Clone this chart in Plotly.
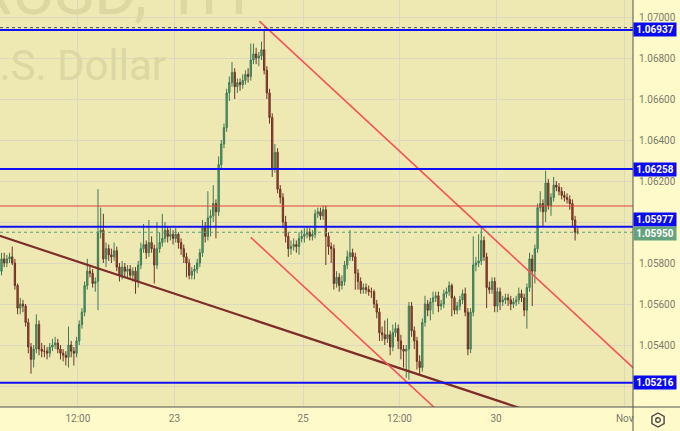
import plotly.graph_objects as go

# ---------------- data (hourly candles) ----------------
open_ = [
    1.0576, 1.0582, 1.0580, 1.0582, 1.0583, 1.0580, 1.0569, 1.0558, 1.0560, 1.0559, 1.0551, 1.0539,
    1.0533, 1.0538, 1.0550, 1.0538, 1.0537, 1.0537, 1.0536, 1.0539, 1.0540, 1.0541, 1.0538, 1.0536,
    1.0535, 1.0534, 1.0540, 1.0537, 1.0536, 1.0542, 1.0550, 1.0556, 1.0569, 1.0576, 1.0575, 1.0570,
    1.0571, 1.0595, 1.0596, 1.0582, 1.0587, 1.0584, 1.0583, 1.0586, 1.0578, 1.0574, 1.0578, 1.0576,
    1.0577, 1.0574, 1.0576, 1.0571, 1.0579, 1.0587, 1.0589, 1.0585, 1.0590, 1.0587, 1.0579, 1.0587,
    1.0590, 1.0592, 1.0596, 1.0593, 1.0594, 1.0592, 1.0594, 1.0590, 1.0587, 1.0583, 1.0580, 1.0574,
    1.0576, 1.0577, 1.0580, 1.0585, 1.0597, 1.0593, 1.0602, 1.0603, 1.0609, 1.0605, 1.0628, 1.0638,
    1.0646, 1.0663, 1.0668, 1.0673, 1.0666, 1.0668, 1.0667, 1.0669, 1.0672, 1.0671, 1.0679, 1.0682,
    1.0680, 1.0681, 1.0684, 1.0674, 1.0663, 1.0651, 1.0626, 1.0634, 1.0616, 1.0612, 1.0600, 1.0593,
    1.0587, 1.0588, 1.0589, 1.0588, 1.0592, 1.0593, 1.0594, 1.0595, 1.0593, 1.0594, 1.0604, 1.0605,
    1.0603, 1.0606, 1.0593, 1.0588, 1.0587, 1.0570, 1.0573, 1.0569, 1.0571, 1.0579, 1.0583, 1.0585,
    1.0583, 1.0575, 1.0571, 1.0567, 1.0568, 1.0567, 1.0566, 1.0566, 1.0560, 1.0556, 1.0546, 1.0545,
    1.0543, 1.0545, 1.0539, 1.0546, 1.0548, 1.0542, 1.0538, 1.0537, 1.0538, 1.0559, 1.0547, 1.0542,
    1.0532, 1.0529, 1.0551, 1.0560, 1.0557, 1.0561, 1.0563, 1.0564, 1.0559, 1.0560, 1.0565, 1.0566,
    1.0569, 1.0563, 1.0557, 1.0559, 1.0562, 1.0565, 1.0556, 1.0538, 1.0556, 1.0579, 1.0580, 1.0581,
    1.0591, 1.0583, 1.0568, 1.0567, 1.0571, 1.0559, 1.0566, 1.0561, 1.0562, 1.0563, 1.0562, 1.0560,
    1.0561, 1.0562, 1.0565, 1.0563, 1.0557, 1.0568, 1.0582, 1.0576, 1.0587, 1.0607, 1.0609, 1.0605,
    1.0619, 1.0608, 1.0612, 1.0618, 1.0617, 1.0615, 1.0613, 1.0612, 1.0611, 1.0609, 1.0601, 1.0595,
]
high = [
    1.0585, 1.0585, 1.0584, 1.0585, 1.0588, 1.0582, 1.0570, 1.0563, 1.0562, 1.0560, 1.0553, 1.0541,
    1.0540, 1.0555, 1.0552, 1.0541, 1.0540, 1.0539, 1.0541, 1.0543, 1.0544, 1.0543, 1.0540, 1.0538,
    1.0537, 1.0549, 1.0542, 1.0539, 1.0544, 1.0552, 1.0558, 1.0571, 1.0582, 1.0579, 1.0577, 1.0573,
    1.0616, 1.0607, 1.0604, 1.0590, 1.0589, 1.0587, 1.0590, 1.0588, 1.0580, 1.0581, 1.0580, 1.0579,
    1.0579, 1.0578, 1.0578, 1.0581, 1.0590, 1.0599, 1.0591, 1.0601, 1.0593, 1.0589, 1.0600, 1.0595,
    1.0604, 1.0600, 1.0598, 1.0597, 1.0596, 1.0597, 1.0595, 1.0592, 1.0589, 1.0585, 1.0582, 1.0578,
    1.0579, 1.0582, 1.0587, 1.0601, 1.0600, 1.0615, 1.0606, 1.0618, 1.0611, 1.0632, 1.0640, 1.0648,
    1.0665, 1.0671, 1.0678, 1.0675, 1.0670, 1.0670, 1.0672, 1.0674, 1.0675, 1.0687, 1.0687, 1.0685,
    1.0683, 1.0688, 1.0694, 1.0676, 1.0665, 1.0653, 1.0638, 1.0636, 1.0618, 1.0614, 1.0603, 1.0595,
    1.0591, 1.0592, 1.0591, 1.0595, 1.0596, 1.0597, 1.0598, 1.0597, 1.0596, 1.0606, 1.0607, 1.0607,
    1.0608, 1.0608, 1.0595, 1.0590, 1.0589, 1.0576, 1.0575, 1.0574, 1.0581, 1.0586, 1.0596, 1.0587,
    1.0585, 1.0577, 1.0573, 1.0570, 1.0570, 1.0569, 1.0568, 1.0567, 1.0562, 1.0558, 1.0549, 1.0552,
    1.0553, 1.0547, 1.0550, 1.0551, 1.0550, 1.0545, 1.0540, 1.0540, 1.0561, 1.0561, 1.0549, 1.0544,
    1.0535, 1.0553, 1.0564, 1.0562, 1.0563, 1.0566, 1.0566, 1.0566, 1.0562, 1.0567, 1.0568, 1.0571,
    1.0570, 1.0564, 1.0561, 1.0564, 1.0567, 1.0568, 1.0558, 1.0558, 1.0593, 1.0583, 1.0594, 1.0597,
    1.0593, 1.0585, 1.0571, 1.0573, 1.0573, 1.0568, 1.0568, 1.0564, 1.0565, 1.0565, 1.0564, 1.0563,
    1.0564, 1.0568, 1.0567, 1.0565, 1.0570, 1.0585, 1.0584, 1.0589, 1.0609, 1.0615, 1.0611, 1.0625,
    1.0621, 1.0614, 1.0622, 1.0620, 1.0619, 1.0617, 1.0615, 1.0614, 1.0613, 1.0611, 1.0603, 1.0597,
]
low = [
    1.0574, 1.0578, 1.0578, 1.0580, 1.0579, 1.0567, 1.0555, 1.0555, 1.0556, 1.0549, 1.0536, 1.0526,
    1.0529, 1.0536, 1.0535, 1.0534, 1.0534, 1.0533, 1.0534, 1.0537, 1.0538, 1.0536, 1.0533, 1.0532,
    1.0530, 1.0529, 1.0534, 1.0530, 1.0534, 1.0540, 1.0548, 1.0554, 1.0567, 1.0573, 1.0568, 1.0566,
    1.0557, 1.0592, 1.0580, 1.0578, 1.0581, 1.0580, 1.0581, 1.0576, 1.0571, 1.0572, 1.0573, 1.0573,
    1.0572, 1.0571, 1.0565, 1.0568, 1.0577, 1.0585, 1.0582, 1.0583, 1.0585, 1.0570, 1.0577, 1.0585,
    1.0588, 1.0590, 1.0590, 1.0591, 1.0589, 1.0590, 1.0587, 1.0584, 1.0580, 1.0573, 1.0572, 1.0572,
    1.0572, 1.0575, 1.0578, 1.0583, 1.0590, 1.0591, 1.0593, 1.0600, 1.0592, 1.0603, 1.0626, 1.0636,
    1.0644, 1.0659, 1.0666, 1.0660, 1.0663, 1.0664, 1.0665, 1.0667, 1.0668, 1.0669, 1.0677, 1.0677,
    1.0676, 1.0679, 1.0672, 1.0660, 1.0648, 1.0622, 1.0624, 1.0614, 1.0609, 1.0597, 1.0590, 1.0583,
    1.0584, 1.0586, 1.0585, 1.0584, 1.0590, 1.0590, 1.0592, 1.0591, 1.0591, 1.0592, 1.0602, 1.0601,
    1.0601, 1.0579, 1.0584, 1.0580, 1.0567, 1.0568, 1.0566, 1.0567, 1.0569, 1.0577, 1.0581, 1.0581,
    1.0567, 1.0567, 1.0565, 1.0565, 1.0565, 1.0564, 1.0563, 1.0558, 1.0553, 1.0542, 1.0542, 1.0540,
    1.0541, 1.0535, 1.0537, 1.0544, 1.0538, 1.0533, 1.0529, 1.0524, 1.0523, 1.0544, 1.0538, 1.0528,
    1.0525, 1.0527, 1.0549, 1.0554, 1.0552, 1.0555, 1.0561, 1.0556, 1.0557, 1.0558, 1.0563, 1.0564,
    1.0554, 1.0555, 1.0555, 1.0557, 1.0560, 1.0554, 1.0535, 1.0536, 1.0554, 1.0576, 1.0578, 1.0579,
    1.0581, 1.0558, 1.0565, 1.0565, 1.0556, 1.0556, 1.0557, 1.0559, 1.0560, 1.0559, 1.0557, 1.0558,
    1.0559, 1.0560, 1.0561, 1.0554, 1.0548, 1.0566, 1.0559, 1.0570, 1.0585, 1.0605, 1.0598, 1.0600,
    1.0606, 1.0603, 1.0610, 1.0615, 1.0613, 1.0611, 1.0610, 1.0609, 1.0606, 1.0598, 1.0591, 1.0594,
]
close_ = [
    1.0582, 1.0580, 1.0582, 1.0583, 1.0580, 1.0569, 1.0558, 1.0560, 1.0559, 1.0551, 1.0539, 1.0533,
    1.0538, 1.0550, 1.0538, 1.0537, 1.0537, 1.0536, 1.0539, 1.0540, 1.0541, 1.0538, 1.0536, 1.0535,
    1.0534, 1.0540, 1.0537, 1.0536, 1.0542, 1.0550, 1.0556, 1.0569, 1.0576, 1.0575, 1.0570, 1.0571,
    1.0595, 1.0596, 1.0582, 1.0587, 1.0584, 1.0583, 1.0586, 1.0578, 1.0574, 1.0578, 1.0576, 1.0577,
    1.0574, 1.0576, 1.0571, 1.0579, 1.0587, 1.0589, 1.0585, 1.0590, 1.0587, 1.0579, 1.0587, 1.0590,
    1.0592, 1.0596, 1.0593, 1.0594, 1.0592, 1.0594, 1.0590, 1.0587, 1.0583, 1.0580, 1.0574, 1.0576,
    1.0577, 1.0580, 1.0585, 1.0597, 1.0593, 1.0602, 1.0603, 1.0609, 1.0605, 1.0628, 1.0638, 1.0646,
    1.0663, 1.0668, 1.0673, 1.0666, 1.0668, 1.0667, 1.0669, 1.0672, 1.0671, 1.0679, 1.0682, 1.0680,
    1.0681, 1.0684, 1.0674, 1.0663, 1.0651, 1.0626, 1.0634, 1.0616, 1.0612, 1.0600, 1.0593, 1.0587,
    1.0588, 1.0589, 1.0588, 1.0592, 1.0593, 1.0594, 1.0595, 1.0593, 1.0594, 1.0604, 1.0605, 1.0603,
    1.0606, 1.0593, 1.0588, 1.0587, 1.0570, 1.0573, 1.0569, 1.0571, 1.0579, 1.0583, 1.0585, 1.0583,
    1.0575, 1.0571, 1.0567, 1.0568, 1.0567, 1.0566, 1.0566, 1.0560, 1.0556, 1.0546, 1.0545, 1.0543,
    1.0545, 1.0539, 1.0546, 1.0548, 1.0542, 1.0538, 1.0537, 1.0538, 1.0559, 1.0547, 1.0542, 1.0532,
    1.0529, 1.0551, 1.0560, 1.0557, 1.0561, 1.0563, 1.0564, 1.0559, 1.0560, 1.0565, 1.0566, 1.0569,
    1.0563, 1.0557, 1.0559, 1.0562, 1.0565, 1.0556, 1.0538, 1.0556, 1.0579, 1.0580, 1.0581, 1.0591,
    1.0583, 1.0568, 1.0567, 1.0571, 1.0559, 1.0566, 1.0561, 1.0562, 1.0563, 1.0562, 1.0560, 1.0561,
    1.0562, 1.0565, 1.0563, 1.0557, 1.0568, 1.0582, 1.0576, 1.0587, 1.0607, 1.0609, 1.0605, 1.0619,
    1.0608, 1.0612, 1.0618, 1.0617, 1.0615, 1.0613, 1.0612, 1.0611, 1.0609, 1.0601, 1.0595, 1.0595,
]
bars = list(range(len(close_)))

time_tick_pos = [28.5, 64.5, 112.5, 148.5, 184.5, 232.5]
time_tick_text = ["12:00", "23", "25", "12:00", "30", "Nov"]

price_ticks = [1.052, 1.054, 1.056, 1.058, 1.060, 1.062, 1.064, 1.066, 1.068, 1.070]
price_tick_text = ["", "1.05400", "1.05600", "1.05800", "", "1.06200",
                   "1.06400", "1.06600", "1.06800", "1.07000"]

blue_levels = [1.06937, 1.06258, 1.05977, 1.05216]
red_level = 1.06078
high_marker = 1.06948
last_price = 1.05950

trend_brown_x = [-10, 200]
trend_brown_y = [1.05973, 1.05064]
channel_top_x = [96.2, 240]
channel_top_y = [1.06980, 1.05236]
channel_bot_x = [93.0, 167.4]
channel_bot_y = [1.05925, 1.05023]

x_range = [-0.56, 235.6]
y_range = [1.050976, 1.070829]

# ---------------- figure ----------------
W, H = 680, 431
ML, MR, MT, MB = 0, 47, 0, 24
PW, PH = W - ML - MR, H - MT - MB


def px(xp):
    return (xp - ML) / PW


def py(yp):
    return (H - MB - yp) / PH


PLOT_BG = "#EEE9B2"
AXIS_BG = "#FFFAC9"
GRID = "#DCD9BF"
TXT = "#7A7A6C"
FONT = "Roboto"

fig = go.Figure()

fig.add_trace(go.Candlestick(
    x=bars, open=open_, high=high, low=low, close=close_,
    increasing=dict(line=dict(color="#3E7A54", width=1), fillcolor="#5EA57A"),
    decreasing=dict(line=dict(color="#6E3224", width=1), fillcolor="#B2452F"),
    whiskerwidth=0, showlegend=False, hoverinfo="skip",
))

fig.add_trace(go.Scatter(x=trend_brown_x, y=trend_brown_y, mode="lines",
                         line=dict(color="#7E2E2A", width=2.2), showlegend=False, hoverinfo="skip"))
fig.add_trace(go.Scatter(x=channel_top_x, y=channel_top_y, mode="lines",
                         line=dict(color="#F2545B", width=1.6), showlegend=False, hoverinfo="skip"))
fig.add_trace(go.Scatter(x=channel_bot_x, y=channel_bot_y, mode="lines",
                         line=dict(color="#F2545B", width=1.6), showlegend=False, hoverinfo="skip"))

shapes = []
shapes.append(dict(type="line", xref="paper", x0=0, x1=1, yref="y", y0=high_marker, y1=high_marker,
                   line=dict(color="#44446A", width=1, dash="dot")))
shapes.append(dict(type="line", xref="paper", x0=0, x1=1, yref="y", y0=red_level, y1=red_level,
                   line=dict(color="#E0413D", width=1)))
shapes.append(dict(type="line", xref="paper", x0=0, x1=1, yref="y", y0=last_price, y1=last_price,
                   line=dict(color="#5C9E78", width=1, dash="dot")))
for lv in blue_levels:
    shapes.append(dict(type="line", xref="paper", x0=0, x1=1, yref="y", y0=lv, y1=lv,
                       line=dict(color="#1010F5", width=2)))

# frame lines
shapes.append(dict(type="line", xref="paper", yref="paper", x0=1, x1=1, y0=py(H), y1=1,
                   line=dict(color="#555555", width=1)))
shapes.append(dict(type="line", xref="paper", yref="paper", x0=0, x1=px(W), y0=0, y1=0,
                   line=dict(color="#555555", width=1)))

# settings icon (hexagon + ring)
cx, cy, r = 658, 420, 7
hexpts = [(cx, cy - r), (cx + 6.1, cy - 3.5), (cx + 6.1, cy + 3.5),
          (cx, cy + r), (cx - 6.1, cy + 3.5), (cx - 6.1, cy - 3.5)]
path = "M " + " L ".join(f"{px(a):.5f},{py(b):.5f}" for a, b in hexpts) + " Z"
shapes.append(dict(type="path", xref="paper", yref="paper", path=path,
                   line=dict(color="#4A4A4A", width=1.4)))
shapes.append(dict(type="circle", xref="paper", yref="paper",
                   x0=px(cx - 2.3), x1=px(cx + 2.3), y0=py(cy + 2.3), y1=py(cy - 2.3),
                   line=dict(color="#4A4A4A", width=1.4)))

annotations = []
label_shift = {1.05977: 7}
for lv in blue_levels:
    annotations.append(dict(
        xref="paper", x=1.0, xanchor="left", yref="y", y=lv, yanchor="middle",
        yshift=label_shift.get(lv, 0), text=f"<b>{lv:.5f}</b>", showarrow=False,
        bgcolor="#0A0AF2", font=dict(color="white", size=10, family=FONT),
        width=42, height=13, borderpad=0, align="center"))
annotations.append(dict(
    xref="paper", x=1.0, xanchor="left", yref="y", y=last_price, yanchor="middle",
    yshift=-1, text=f"<b>{last_price:.5f}</b>", showarrow=False,
    bgcolor="#64A27E", font=dict(color="white", size=10, family=FONT),
    width=42, height=13, borderpad=0, align="center"))

# watermark
annotations.append(dict(xref="paper", yref="paper", x=px(250), y=py(32), xanchor="right",
                        yanchor="bottom", text="EURUSD, 1H", showarrow=False,
                        font=dict(size=66, color="#DCD7A3", family=FONT)))
annotations.append(dict(xref="paper", yref="paper", x=px(168), y=py(65), xanchor="right",
                        yanchor="middle", text="Euro vs U.S. Dollar", showarrow=False,
                        font=dict(size=42, color="#DCD7A3", family=FONT)))

fig.update_layout(
    width=W, height=H,
    margin=dict(l=ML, r=MR, t=MT, b=MB, pad=0),
    paper_bgcolor=AXIS_BG, plot_bgcolor=PLOT_BG,
    showlegend=False,
    shapes=shapes, annotations=annotations,
    xaxis=dict(range=x_range, tickvals=time_tick_pos, ticktext=time_tick_text,
               showgrid=True, gridcolor=GRID, gridwidth=1, zeroline=False,
               rangeslider=dict(visible=False), ticks="", showline=False,
               ticklabelstandoff=4,
               tickfont=dict(size=10, color=TXT, family=FONT), fixedrange=True),
    yaxis=dict(range=y_range, side="right", tickvals=price_ticks, ticktext=price_tick_text,
               showgrid=True, gridcolor=GRID, gridwidth=1, zeroline=False,
               ticks="", showline=False, ticklabelstandoff=5,
               tickfont=dict(size=10, color=TXT, family=FONT), fixedrange=True),
)

fig.write_html("out.html",
               config={"displayModeBar": False, "staticPlot": True},
               post_script="document.body.style.margin='0';document.body.style.overflow='hidden';")
